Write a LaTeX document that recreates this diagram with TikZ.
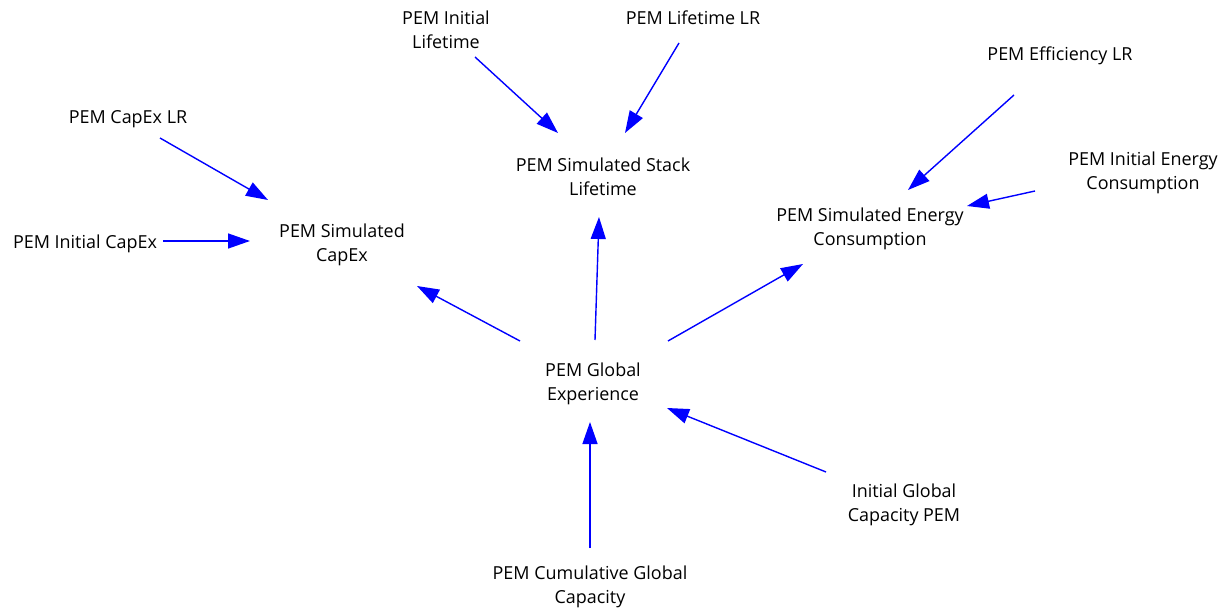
\documentclass[tikz,border=0pt]{standalone}
\usepackage{fontspec}
\setmainfont{Open Sans}
\usetikzlibrary{arrows.meta,calc}
\begin{document}
\begin{tikzpicture}[x=1bp,y=-1bp,
  lbl/.style={align=center,inner sep=0pt,font=\fontsize{18}{24}\selectfont},
  arr/.style={draw={rgb,255:red,0;green,0;blue,255},line width=1.4bp,
    -{Triangle[length=22bp,width=15bp]}}]
\useasboundingbox (0,0) rectangle (1223,611);
\node[lbl] (initlife) at (446,30) {PEM Initial\\Lifetime};
\node[lbl] (lifelr) at (693,18) {PEM Lifetime LR};
\node[lbl] (caplr) at (128,119) {PEM CapEx LR};
\node[lbl] (initcap) at (85,244) {PEM Initial CapEx};
\node[lbl] (simcap) at (342,245) {PEM Simulated\\CapEx};
\node[lbl] (stack) at (603,177) {PEM Simulated Stack\\Lifetime};
\node[lbl] (efflr) at (1060,56) {PEM Efficiency LR};
\node[lbl] (initenergy) at (1143,173) {PEM Initial Energy\\Consumption};
\node[lbl] (energy) at (870,229) {PEM Simulated Energy\\Consumption};
\node[lbl] (ge) at (593,384) {PEM Global\\Experience};
\node[lbl] (igc) at (904,505) {Initial Global\\Capacity PEM};
\node[lbl] (cum) at (590,587) {PEM Cumulative Global\\Capacity};
\draw[arr] ($(caplr)+(32,19)$) -- ($(simcap)+(-74,-45)$);
\draw[arr] ($(initcap)+(78,-3)$) -- ($(simcap)+(-92,-4)$);
\draw[arr] ($(initlife)+(29,27)$) -- ($(stack)+(-45,-44)$);
\draw[arr] ($(lifelr)+(-14,25)$) -- ($(stack)+(22,-44)$);
\draw[arr] ($(efflr)+(-46,39)$) -- ($(energy)+(38,-39)$);
\draw[arr] ($(initenergy)+(-108,18)$) -- ($(energy)+(97,-23)$);
\draw[arr] ($(ge)+(-73,-43)$) -- ($(simcap)+(75,41)$);
\draw[arr] ($(ge)+(2,-44)$) -- ($(stack)+(-4,40)$);
\draw[arr] ($(ge)+(75,-43)$) -- ($(energy)+(-67,35)$);
\draw[arr] ($(igc)+(-78,-33)$) -- ($(ge)+(74,24)$);
\draw[arr] ($(cum)+(0,-39)$) -- ($(ge)+(-3,38)$);
\end{tikzpicture}
\end{document}
